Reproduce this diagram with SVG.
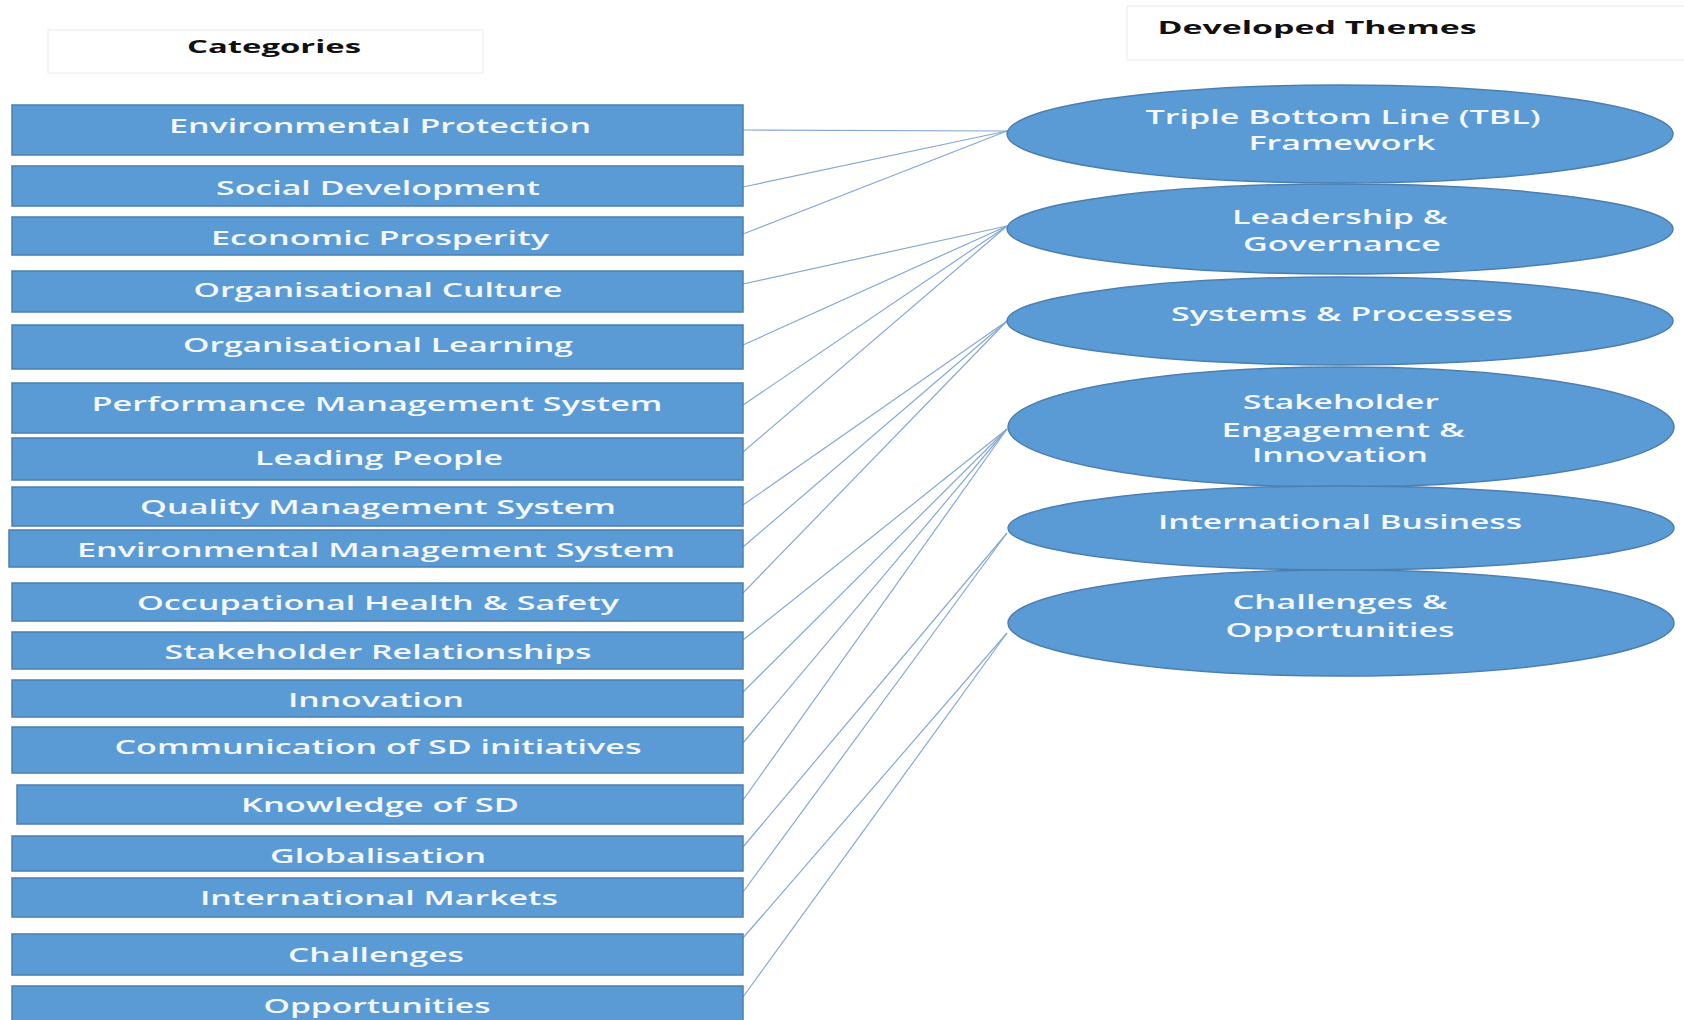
<svg xmlns="http://www.w3.org/2000/svg" width="1684" height="1020" viewBox="0 0 1684 1020">
<style>
.hbox{fill:#ffffff;stroke:#ececec;stroke-width:1}
.head{font-family:"Open Sans","Liberation Sans",sans-serif;font-weight:700;font-size:18px;fill:#111;text-anchor:middle}
.cat{fill:#5b9bd5;stroke:#4a7fb0;stroke-width:1.5}
.th{fill:#5b9bd5;stroke:#4a7fb0;stroke-width:1.5}
.lbl{font-family:"Open Sans","Liberation Sans",sans-serif;font-weight:600;font-size:19px;fill:#f4f7fb;text-anchor:middle}
.con line{stroke:#86a8d2;stroke-width:1.2}
</style>
<rect width="1684" height="1020" fill="#ffffff"/>
<g id="header-categories">
<rect class="hbox" x="48" y="30" width="435" height="43"/>
<text class="head" x="274" y="53" textLength="174" lengthAdjust="spacingAndGlyphs">Categories</text>
</g>
<g id="header-themes">
<rect class="hbox" x="1127" y="6" width="570" height="54"/>
<text class="head" x="1317" y="34" textLength="319" lengthAdjust="spacingAndGlyphs">Developed Themes</text>
</g>
<g id="connectors" class="con">
<line x1="743" y1="130" x2="1007" y2="131"/>
<line x1="743" y1="187" x2="1007" y2="131"/>
<line x1="743" y1="234" x2="1007" y2="131"/>
<line x1="743" y1="284" x2="1007" y2="226"/>
<line x1="743" y1="345" x2="1007" y2="226"/>
<line x1="743" y1="405" x2="1007" y2="226"/>
<line x1="743" y1="452" x2="1007" y2="226"/>
<line x1="743" y1="505" x2="1007" y2="321"/>
<line x1="743" y1="547" x2="1007" y2="321"/>
<line x1="743" y1="593" x2="1007" y2="321"/>
<line x1="743" y1="640" x2="1007" y2="429"/>
<line x1="743" y1="692" x2="1007" y2="429"/>
<line x1="743" y1="743" x2="1007" y2="429"/>
<line x1="743" y1="800" x2="1007" y2="429"/>
<line x1="743" y1="847" x2="1007" y2="533"/>
<line x1="743" y1="892" x2="1007" y2="533"/>
<line x1="743" y1="938" x2="1007" y2="633"/>
<line x1="743" y1="997" x2="1007" y2="633"/>
</g>
<g id="cat-environmental-protection"><rect class="cat" x="12" y="105" width="731" height="50"/><text class="lbl" x="380" y="133" textLength="422" lengthAdjust="spacingAndGlyphs">Environmental Protection</text></g>
<g id="cat-social-development"><rect class="cat" x="12" y="166" width="731" height="40"/><text class="lbl" x="378" y="195" textLength="324" lengthAdjust="spacingAndGlyphs">Social Development</text></g>
<g id="cat-economic-prosperity"><rect class="cat" x="12" y="217" width="731" height="38"/><text class="lbl" x="380" y="245" textLength="338" lengthAdjust="spacingAndGlyphs">Economic Prosperity</text></g>
<g id="cat-organisational-culture"><rect class="cat" x="12" y="271" width="731" height="41"/><text class="lbl" x="378" y="297" textLength="369" lengthAdjust="spacingAndGlyphs">Organisational Culture</text></g>
<g id="cat-organisational-learning"><rect class="cat" x="12" y="325" width="731" height="44"/><text class="lbl" x="378" y="352" textLength="390" lengthAdjust="spacingAndGlyphs">Organisational Learning</text></g>
<g id="cat-performance-management-system"><rect class="cat" x="12" y="383" width="731" height="50"/><text class="lbl" x="377" y="411" textLength="571" lengthAdjust="spacingAndGlyphs">Performance Management System</text></g>
<g id="cat-leading-people"><rect class="cat" x="12" y="438" width="731" height="42"/><text class="lbl" x="379" y="465" textLength="248" lengthAdjust="spacingAndGlyphs">Leading People</text></g>
<g id="cat-quality-management-system"><rect class="cat" x="12" y="487" width="731" height="39"/><text class="lbl" x="378" y="514" textLength="476" lengthAdjust="spacingAndGlyphs">Quality Management System</text></g>
<g id="cat-environmental-management-system"><rect class="cat" x="9" y="530" width="734" height="37"/><text class="lbl" x="376" y="557" textLength="598" lengthAdjust="spacingAndGlyphs">Environmental Management System</text></g>
<g id="cat-occupational-health-safety"><rect class="cat" x="12" y="583" width="731" height="38"/><text class="lbl" x="378" y="610" textLength="482" lengthAdjust="spacingAndGlyphs">Occupational Health &amp; Safety</text></g>
<g id="cat-stakeholder-relationships"><rect class="cat" x="12" y="632" width="731" height="37"/><text class="lbl" x="378" y="659" textLength="427" lengthAdjust="spacingAndGlyphs">Stakeholder Relationships</text></g>
<g id="cat-innovation"><rect class="cat" x="12" y="680" width="731" height="37"/><text class="lbl" x="376" y="707" textLength="176" lengthAdjust="spacingAndGlyphs">Innovation</text></g>
<g id="cat-communication-sd"><rect class="cat" x="12" y="727" width="731" height="46"/><text class="lbl" x="378" y="754" textLength="527" lengthAdjust="spacingAndGlyphs">Communication of SD initiatives</text></g>
<g id="cat-knowledge-sd"><rect class="cat" x="17" y="785" width="726" height="39"/><text class="lbl" x="380" y="812" textLength="278" lengthAdjust="spacingAndGlyphs">Knowledge of SD</text></g>
<g id="cat-globalisation"><rect class="cat" x="12" y="836" width="731" height="35"/><text class="lbl" x="378" y="863" textLength="216" lengthAdjust="spacingAndGlyphs">Globalisation</text></g>
<g id="cat-international-markets"><rect class="cat" x="12" y="878" width="731" height="39"/><text class="lbl" x="379" y="905" textLength="358" lengthAdjust="spacingAndGlyphs">International Markets</text></g>
<g id="cat-challenges"><rect class="cat" x="12" y="934" width="731" height="41"/><text class="lbl" x="376" y="962" textLength="176" lengthAdjust="spacingAndGlyphs">Challenges</text></g>
<g id="cat-opportunities"><rect class="cat" x="12" y="986" width="731" height="40"/><text class="lbl" x="377" y="1013" textLength="227" lengthAdjust="spacingAndGlyphs">Opportunities</text></g>
<g id="theme-tbl"><ellipse class="th" cx="1340" cy="134" rx="333" ry="49"/><text class="lbl" x="1343" y="124" textLength="395" lengthAdjust="spacingAndGlyphs">Triple Bottom Line (TBL)</text><text class="lbl" x="1342" y="150" textLength="187" lengthAdjust="spacingAndGlyphs">Framework</text></g>
<g id="theme-leadership"><ellipse class="th" cx="1340" cy="229" rx="333" ry="45"/><text class="lbl" x="1340" y="224" textLength="216" lengthAdjust="spacingAndGlyphs">Leadership &amp;</text><text class="lbl" x="1342" y="251" textLength="198" lengthAdjust="spacingAndGlyphs">Governance</text></g>
<g id="theme-systems"><ellipse class="th" cx="1340" cy="321" rx="333" ry="44"/><text class="lbl" x="1342" y="321" textLength="342" lengthAdjust="spacingAndGlyphs">Systems &amp; Processes</text></g>
<g id="theme-stakeholder"><ellipse class="th" cx="1341" cy="427" rx="333" ry="60"/><text class="lbl" x="1341" y="409" textLength="196" lengthAdjust="spacingAndGlyphs">Stakeholder</text><text class="lbl" x="1343" y="437" textLength="243" lengthAdjust="spacingAndGlyphs">Engagement &amp;</text><text class="lbl" x="1340" y="462" textLength="176" lengthAdjust="spacingAndGlyphs">Innovation</text></g>
<g id="theme-international"><ellipse class="th" cx="1341" cy="528" rx="333" ry="42"/><text class="lbl" x="1340" y="529" textLength="364" lengthAdjust="spacingAndGlyphs">International Business</text></g>
<g id="theme-challenges"><ellipse class="th" cx="1341" cy="623" rx="333" ry="53"/><text class="lbl" x="1340" y="609" textLength="215" lengthAdjust="spacingAndGlyphs">Challenges &amp;</text><text class="lbl" x="1340" y="637" textLength="229" lengthAdjust="spacingAndGlyphs">Opportunities</text></g>
</svg>
